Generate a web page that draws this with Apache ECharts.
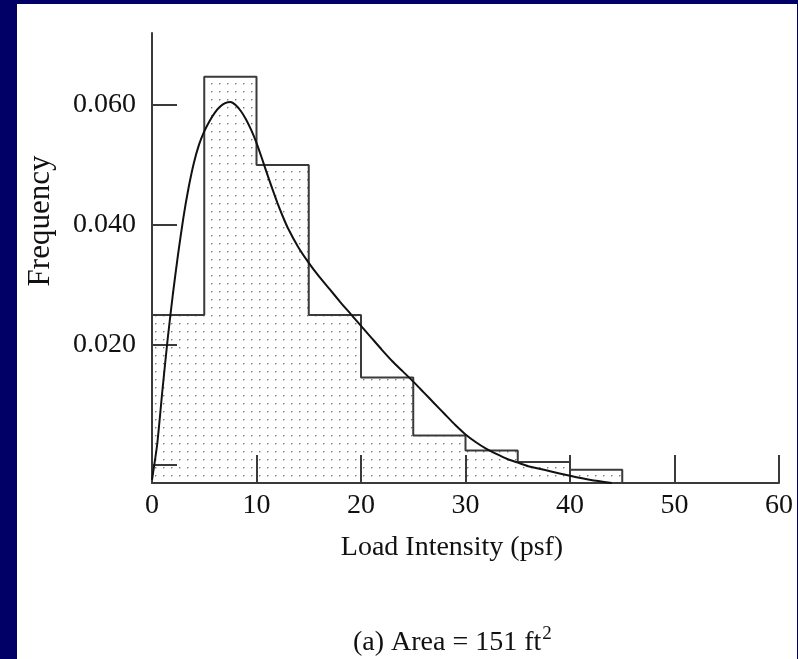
<!DOCTYPE html>
<html><head><meta charset="utf-8">
<script src="https://cdn.jsdelivr.net/npm/echarts@6/dist/echarts.min.js"></script>
<style>
html,body{margin:0;padding:0;background:#000066;width:798px;height:659px;overflow:hidden}
#panel{position:absolute;left:17px;top:4px;width:780px;height:655px;background:#ffffff}
#chart{position:absolute;left:0;top:0;width:798px;height:659px}
</style></head>
<body><div id="panel"></div><div id="chart"></div>
<script>
// Histogram bins (psf) and relative frequencies
const binStart = [0, 5, 10, 15, 20, 25, 30, 35, 40];
const binEnd   = [5, 10, 15, 20, 25, 30, 35, 40, 45];
const frequency = [0.025, 0.0647, 0.050, 0.025, 0.0146, 0.0049, 0.0024, 0.0005, -0.0008];
// Fitted density curve points
const curveX = [0, 0.5, 1, 1.5, 2, 2.5, 3, 3.5, 4, 4.5, 5, 5.5, 6, 6.5, 7, 7.5, 8, 8.5, 9, 9.5, 10, 10.5, 11, 11.5, 12, 12.5, 13, 14, 15, 16, 17, 18, 19, 20, 21, 22, 23, 24, 25, 26, 27, 28, 29, 30, 31, 32, 33, 34, 35, 36, 38, 40, 42, 44];
const curveY = [-0.0025, 0.0035, 0.0125, 0.0210, 0.0285, 0.0352, 0.0412, 0.0462, 0.0503, 0.0534, 0.0556, 0.0573, 0.0587, 0.0597, 0.0603, 0.0605, 0.0600, 0.0590, 0.0576, 0.0558, 0.0537, 0.0512, 0.0486, 0.0461, 0.0437, 0.0415, 0.0395, 0.0363, 0.0337, 0.0314, 0.0293, 0.0272, 0.0252, 0.0232, 0.0212, 0.0192, 0.0173, 0.0156, 0.0139, 0.0121, 0.0103, 0.0085, 0.0067, 0.0051, 0.0038, 0.0027, 0.0018, 0.0010, 0.0004, -0.0002, -0.0010, -0.0018, -0.0025, -0.0030];
// Axis ticks
const xTickValues = [0, 10, 20, 30, 40, 50, 60];
const yTickValues = [0, 0.02, 0.04, 0.06];
const yLabelValues = [0.02, 0.04, 0.06];
const texts = {
  xName: 'Load Intensity (psf)',
  yName: 'Frequency',
  caption: '(a) Area = 151 ft'
};

const Y_MIN = -0.003, Y_MAX = 0.072;
const FONT = '"Liberation Serif", "Times New Roman", serif';
const INK = '#3a3a3a';

// dotted fill pattern
const pat = document.createElement('canvas');
pat.width = 8; pat.height = 8;
const pctx = pat.getContext('2d');
pctx.fillStyle = '#777777';
pctx.fillRect(3, 3, 1.4, 1.4);

const histData = binStart.map((s, i) => [s, binEnd[i], frequency[i]]);
const outline = [];
binStart.forEach((s, i) => { outline.push([s, frequency[i]]); outline.push([binEnd[i], frequency[i]]); });
outline.push([binEnd[binEnd.length - 1], Y_MIN]);
const curve = curveX.map((x, i) => [x, curveY[i]]);

const chart = echarts.init(document.getElementById('chart'), null, {renderer: 'canvas'});
chart.setOption({
  backgroundColor: 'transparent',
  animation: false,
  title: {
    text: texts.caption + '{sup|2}',
    left: 348, top: 620,
    textStyle: {
      fontFamily: FONT, fontSize: 28, fontWeight: 'normal', color: '#111',
      rich: { sup: { fontFamily: FONT, fontSize: 19, color: '#111', verticalAlign: 'top', padding: [0, 0, 16, 1] } }
    }
  },
  grid: { left: 152, right: 19, top: 33, bottom: 176, containLabel: false },
  xAxis: {
    type: 'value', min: 0, max: 60, interval: 10,
    axisLine: { show: true, onZero: false, lineStyle: { color: INK, width: 2 } },
    axisTick: { show: true, inside: true, length: 28, customValues: xTickValues, lineStyle: { color: INK, width: 2 } },
    axisLabel: { show: true, margin: 9, fontFamily: FONT, fontSize: 28, color: '#111' },
    splitLine: { show: false }
  },
  yAxis: {
    type: 'value', min: Y_MIN, max: Y_MAX,
    axisLine: { show: true, onZero: false, lineStyle: { color: INK, width: 2 } },
    axisTick: { show: true, inside: true, length: 25, customValues: yTickValues, lineStyle: { color: INK, width: 2 } },
    axisLabel: { show: true, margin: 16, customValues: yLabelValues, formatter: v => v.toFixed(3), fontFamily: FONT, fontSize: 28, color: '#111' },
    splitLine: { show: false }
  },
  graphic: [
    { type: 'text', x: 452, y: 548, style: { text: texts.xName, align: 'center', verticalAlign: 'middle', font: '28px ' + FONT, fill: '#111' } },
    { type: 'text', x: 41, y: 221, rotation: Math.PI / 2, style: { text: texts.yName, align: 'center', verticalAlign: 'middle', font: '31px ' + FONT, fill: '#111' } }
  ],
  series: [
    {
      type: 'custom',
      data: histData,
      renderItem: function (params, api) {
        const p0 = api.coord([api.value(0), api.value(2)]);
        const p1 = api.coord([api.value(1), Y_MIN]);
        return {
          type: 'rect',
          shape: { x: p0[0], y: p0[1], width: p1[0] - p0[0], height: p1[1] - p0[1] },
          style: { fill: { image: pat, repeat: 'repeat' }, stroke: null }
        };
      },
      z: 1
    },
    {
      type: 'line', data: outline, symbol: 'none', silent: true,
      lineStyle: { color: INK, width: 2 }, z: 2
    },
    {
      type: 'line', data: curve, symbol: 'none', smooth: 0.2, silent: true,
      lineStyle: { color: '#111', width: 2 }, z: 3
    }
  ]
});
</script>
</body></html>
